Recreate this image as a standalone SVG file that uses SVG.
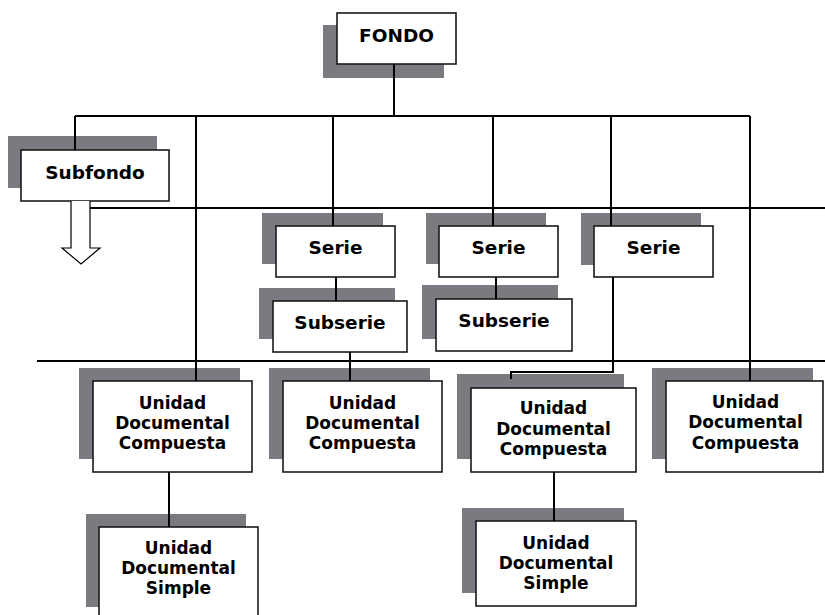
<svg xmlns="http://www.w3.org/2000/svg" width="825" height="615" viewBox="0 0 825 615">
<style>
.sh{fill:#7a7a80;stroke:none}
.bx{fill:#fff;stroke:#1a1a1a;stroke-width:1.6}
.t{font-family:"DejaVu Sans","Verdana",sans-serif;font-weight:bold;fill:#000;text-anchor:middle}
.t1{font-size:18.5px}
.t3{font-size:17px}
.ln{stroke:#000;stroke-width:2;fill:none}
</style>
<rect width="825" height="615" fill="#fff"/>
<g id="fondo">
<rect class="sh" x="323" y="25" width="121" height="53"/>
<rect class="bx" x="337" y="13" width="119" height="51"/>
<text class="t t1" x="396.5" y="42">FONDO</text>
</g>
<g id="subfondo">
<rect class="sh" x="8" y="136" width="149" height="52"/>
<rect class="bx" x="21" y="150" width="148" height="51"/>
<text class="t t1" x="95" y="179">Subfondo</text>
<path d="M71,201 V248 H62 L81,264 L100,248 H90 V201" fill="#fff" stroke="#000" stroke-width="1.2"/>
</g>
<g id="serie1">
<rect class="sh" x="262" y="213" width="121" height="51"/>
<rect class="bx" x="276" y="226" width="119" height="51"/>
<text class="t t1" x="335.5" y="254">Serie</text>
</g>
<g id="serie2">
<rect class="sh" x="426" y="213" width="120" height="51"/>
<rect class="bx" x="439" y="226" width="119" height="51"/>
<text class="t t1" x="498.5" y="254">Serie</text>
</g>
<g id="serie3">
<rect class="sh" x="581" y="213" width="120" height="52"/>
<rect class="bx" x="594" y="226" width="119" height="51"/>
<text class="t t1" x="653.5" y="254">Serie</text>
</g>
<g id="subserie1">
<rect class="sh" x="259" y="288" width="136" height="51"/>
<rect class="bx" x="273" y="301" width="134" height="51"/>
<text class="t t1" x="340" y="329">Subserie</text>
</g>
<g id="subserie2">
<rect class="sh" x="422" y="285" width="136" height="54"/>
<rect class="bx" x="436" y="299" width="136" height="52"/>
<text class="t t1" x="504" y="327">Subserie</text>
</g>
<g id="udc1">
<rect class="sh" x="79" y="368" width="161" height="91"/>
<rect class="bx" x="93" y="381" width="159" height="91"/>
<text class="t t3" x="172.5" y="408.5">Unidad</text>
<text class="t t3" x="172.5" y="428.5">Documental</text>
<text class="t t3" x="172.5" y="448.5">Compuesta</text>
</g>
<g id="udc2">
<rect class="sh" x="269" y="368" width="161" height="91"/>
<rect class="bx" x="283" y="381" width="159" height="91"/>
<text class="t t3" x="362.5" y="408.5">Unidad</text>
<text class="t t3" x="362.5" y="428.5">Documental</text>
<text class="t t3" x="362.5" y="448.5">Compuesta</text>
</g>
<g id="udc3">
<rect class="sh" x="457" y="374" width="167" height="85"/>
<rect class="bx" x="471" y="388" width="165" height="84"/>
<text class="t t3" x="553.5" y="414">Unidad</text>
<text class="t t3" x="553.5" y="435">Documental</text>
<text class="t t3" x="553.5" y="455">Compuesta</text>
</g>
<g id="udc4">
<rect class="sh" x="652" y="368" width="161" height="91"/>
<rect class="bx" x="666" y="381" width="157" height="91"/>
<text class="t t3" x="745.5" y="407.5">Unidad</text>
<text class="t t3" x="745.5" y="428">Documental</text>
<text class="t t3" x="745.5" y="449">Compuesta</text>
</g>
<g id="uds1">
<rect class="sh" x="86" y="514" width="160" height="93"/>
<rect class="bx" x="99" y="527" width="159" height="92"/>
<text class="t t3" x="178.5" y="554">Unidad</text>
<text class="t t3" x="178.5" y="574">Documental</text>
<text class="t t3" x="178.5" y="594">Simple</text>
</g>
<g id="uds2">
<rect class="sh" x="462" y="508" width="162" height="85"/>
<rect class="bx" x="476" y="521" width="160" height="85"/>
<text class="t t3" x="556" y="548.5">Unidad</text>
<text class="t t3" x="556" y="569">Documental</text>
<text class="t t3" x="556" y="589">Simple</text>
</g>
<g id="connectors" class="ln">
<path d="M394,64 V116"/>
<path d="M75,116 H750"/>
<path d="M75,116 V150"/>
<path d="M196,116 V381"/>
<path d="M333,116 V226"/>
<path d="M493,116 V226"/>
<path d="M611,116 V226"/>
<path d="M750,116 V381"/>
<path d="M90,208 H825"/>
<path d="M37,361 H825"/>
<path d="M336,277 V301"/>
<path d="M496,277 V299"/>
<path d="M350,352 V381"/>
<path d="M613,277 V372 H511 V379"/>
<path d="M169,472 V527"/>
<path d="M554,472 V521"/>
</g>
</svg>
